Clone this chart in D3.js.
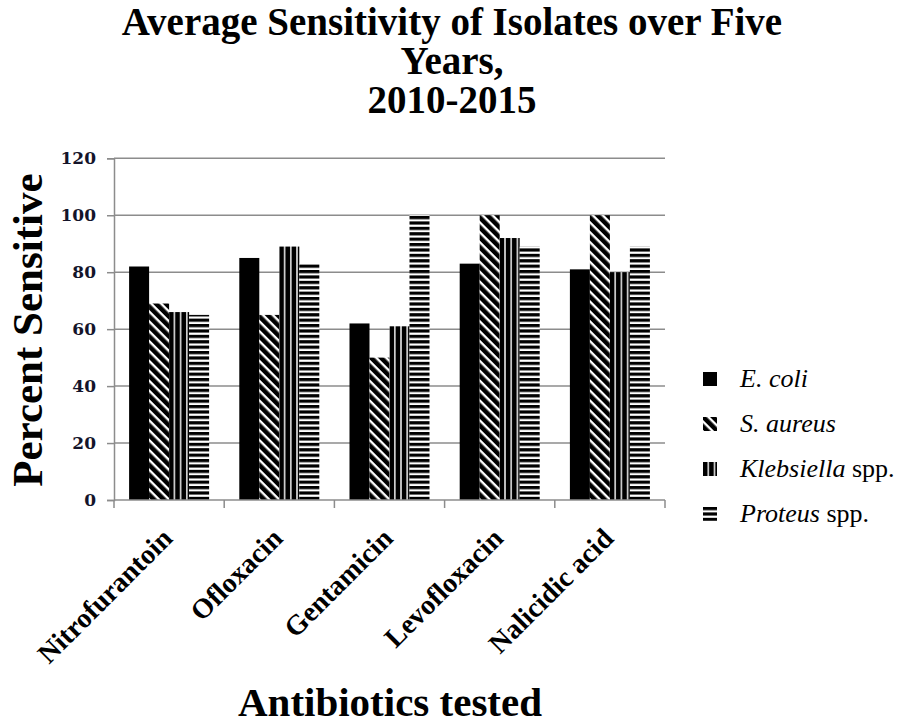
<!DOCTYPE html>
<html>
<head>
<meta charset="utf-8">
<script src="https://cdn.jsdelivr.net/npm/d3@7"></script>
<style>
  html, body { margin: 0; padding: 0; background: #fff; }
  svg { display: block; }
</style>
</head>
<body>
<svg id="chart" width="902" height="725"></svg>
<script>
// Antibiotics on the category axis
const antibiotics = ["Nitrofurantoin", "Ofloxacin", "Gentamicin", "Levofloxacin", "Nalicidic acid"];

// Percent of isolates sensitive, one array per organism
const eColi      = [82, 85, 62, 83, 81];
const sAureus    = [69, 65, 50, 100, 100];
const klebsiella = [66, 89, 61, 92, 80];
const proteus    = [65, 83, 100, 89, 89];

// Legend names: italic genus/species part, then plain suffix
const seriesNames = [
  { key: "ecoli", italic: "E. coli", plain: "" },
  { key: "saureus", italic: "S. aureus", plain: "" },
  { key: "kleb", italic: "Klebsiella", plain: " spp." },
  { key: "proteus", italic: "Proteus", plain: " spp." }
];
const seriesValues = [eColi, sAureus, klebsiella, proteus];

const yTicks = [0, 20, 40, 60, 80, 100, 120];
const titleLines = ["Average Sensitivity of Isolates over Five", "Years,", "2010-2015"];

const svg = d3.select("#chart");
const serif = "'Liberation Serif', 'Times New Roman', serif";

// ---- fill patterns ----
const defs = svg.append("defs");

// S. aureus: white diagonal stripes (top-left to bottom-right) on black
const pDiag = defs.append("pattern").attr("id", "pat-saureus")
  .attr("patternUnits", "userSpaceOnUse").attr("width", 7).attr("height", 7)
  .attr("patternTransform", "rotate(45)");
pDiag.append("rect").attr("width", 7).attr("height", 7).attr("fill", "#000");
pDiag.append("rect").attr("x", 0).attr("y", 2).attr("width", 7).attr("height", 2.4).attr("fill", "#fff");

// Klebsiella: thin white vertical lines on black
const pVert = defs.append("pattern").attr("id", "pat-kleb")
  .attr("patternUnits", "userSpaceOnUse").attr("width", 6.2).attr("height", 10);
pVert.append("rect").attr("width", 6.2).attr("height", 10).attr("fill", "#000");
pVert.append("rect").attr("x", 4.6).attr("y", 0).attr("width", 1.4).attr("height", 10).attr("fill", "#fff");

// Proteus: horizontal black/white bands
const pHor = defs.append("pattern").attr("id", "pat-proteus")
  .attr("patternUnits", "userSpaceOnUse").attr("width", 10).attr("height", 5.4);
pHor.append("rect").attr("width", 10).attr("height", 5.4).attr("fill", "#fff");
pHor.append("rect").attr("x", 0).attr("y", 0).attr("width", 10).attr("height", 3.2).attr("fill", "#000");

const fills = {
  ecoli: "#000",
  saureus: "url(#pat-saureus)",
  kleb: "url(#pat-kleb)",
  proteus: "url(#pat-proteus)"
};

// ---- scales ----
const plotLeft = 114, plotRight = 665, plotTop = 158.3, plotBottom = 500;

const x0 = d3.scaleBand().domain(antibiotics).range([plotLeft, plotRight]).paddingInner(0).paddingOuter(0);
const x1 = d3.scaleBand().domain(seriesNames.map(s => s.key)).range([0, x0.bandwidth()])
  .paddingInner(0).paddingOuter(0.755);
const y = d3.scaleLinear().domain([0, 120]).range([plotBottom, plotTop]);

// ---- gridlines ----
svg.append("g").selectAll("line").data(yTicks.filter(t => t > 0)).join("line")
  .attr("x1", plotLeft).attr("x2", plotRight)
  .attr("y1", d => y(d)).attr("y2", d => y(d))
  .attr("stroke", "#8c8c8c").attr("stroke-width", 1.5);

// ---- y axis ----
const yAxis = svg.append("g").attr("transform", `translate(${plotLeft},0)`)
  .call(d3.axisLeft(y).tickValues(yTicks).tickSize(7).tickPadding(11).tickFormat(d3.format("d")));
yAxis.select(".domain").attr("stroke", "#8c8c8c").attr("stroke-width", 1.5);
yAxis.selectAll(".tick line").attr("stroke", "#8c8c8c").attr("stroke-width", 1.5);
yAxis.selectAll(".tick text")
  .attr("font-family", "'DejaVu Serif', serif").attr("font-weight", "bold").attr("font-size", 17)
  .attr("fill", "#14142a");

// ---- bars ----
const groups = svg.append("g").selectAll("g").data(antibiotics).join("g")
  .attr("transform", d => `translate(${x0(d)},0)`);

groups.each(function(cat, ci) {
  const g = d3.select(this);
  seriesNames.forEach((s, si) => {
    const v = seriesValues[si][ci];
    g.append("g").attr("transform", `translate(${x1(s.key)},0)`)
      .append("rect")
      .attr("x", 0).attr("width", x1.bandwidth())
      .attr("y", y(v)).attr("height", y(0) - y(v))
      .attr("fill", fills[s.key]);
  });
});

// ---- x axis ----
svg.append("line")
  .attr("x1", plotLeft).attr("x2", plotRight).attr("y1", plotBottom).attr("y2", plotBottom)
  .attr("stroke", "#8c8c8c").attr("stroke-width", 1.5);
const boundaries = antibiotics.map(a => x0(a)).concat([x0.range()[1]]);
svg.append("g").selectAll("line").data(boundaries).join("line")
  .attr("x1", d => d).attr("x2", d => d)
  .attr("y1", plotBottom).attr("y2", plotBottom + 8)
  .attr("stroke", "#8c8c8c").attr("stroke-width", 1.5);

svg.append("g").selectAll("text").data(antibiotics).join("text")
  .attr("transform", d => `translate(${x0(d) + x0.bandwidth() / 2 + 5},${plotBottom + 40}) rotate(-45)`)
  .attr("text-anchor", "end")
  .attr("font-family", serif).attr("font-weight", "bold").attr("font-size", 28)
  .attr("fill", "#000")
  .text(d => d);

// ---- titles ----
svg.append("g").selectAll("text").data(titleLines).join("text")
  .attr("x", 452).attr("y", (d, i) => 35 + i * 39)
  .attr("text-anchor", "middle")
  .attr("font-family", serif).attr("font-weight", "bold").attr("font-size", 39)
  .attr("fill", "#000")
  .text(d => d);

svg.append("text")
  .attr("transform", `translate(42,${(plotTop + plotBottom) / 2 + 1}) rotate(-90)`)
  .attr("text-anchor", "middle")
  .attr("font-family", serif).attr("font-weight", "bold").attr("font-size", 43)
  .attr("fill", "#000")
  .text("Percent Sensitive");

svg.append("text")
  .attr("x", 390).attr("y", 716)
  .attr("text-anchor", "middle")
  .attr("font-family", serif).attr("font-weight", "bold").attr("font-size", 41)
  .attr("fill", "#000")
  .text("Antibiotics tested");

// ---- legend ----
const legend = svg.append("g").attr("transform", "translate(703,372)");
const item = legend.selectAll("g").data(seriesNames).join("g")
  .attr("transform", (d, i) => `translate(0,${i * 45})`);
item.append("rect")
  .attr("x", 0).attr("y", 0).attr("width", 14).attr("height", 14)
  .attr("fill", d => fills[d.key]);
const lt = item.append("text")
  .attr("x", 37).attr("y", 15)
  .attr("font-family", serif).attr("font-size", 26).attr("fill", "#000");
lt.append("tspan").attr("font-style", "italic").text(d => d.italic);
lt.append("tspan").text(d => d.plain);
</script>
</body>
</html>
